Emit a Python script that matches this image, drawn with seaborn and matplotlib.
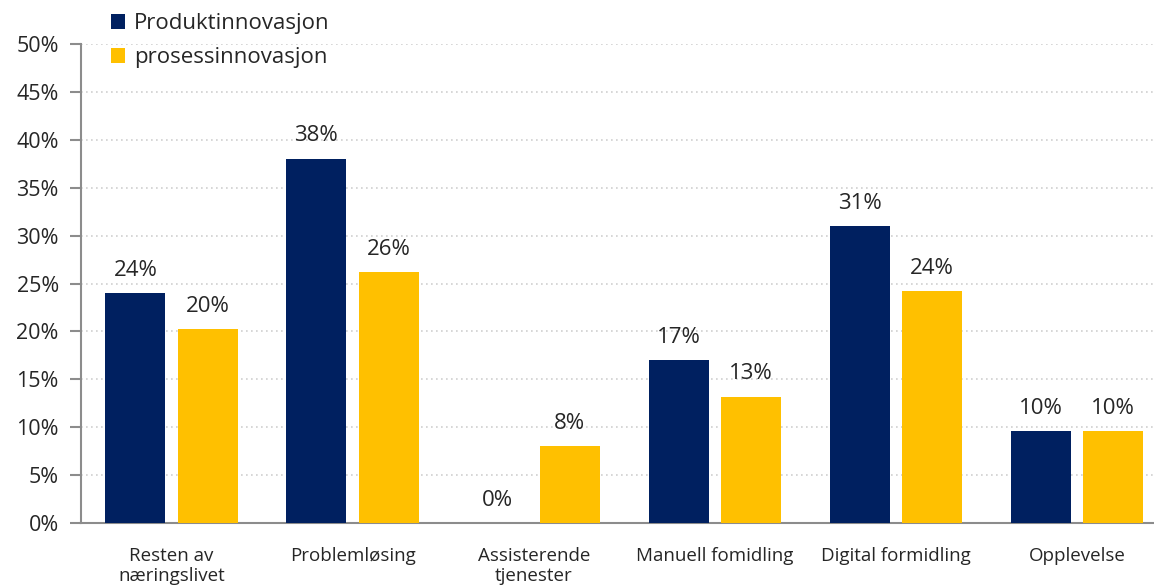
import matplotlib
matplotlib.use("Agg")
import matplotlib.pyplot as plt
import seaborn as sns
import pandas as pd
from matplotlib.ticker import FuncFormatter, MultipleLocator
from matplotlib.patches import Patch

categories = ["Resten av\nnæringslivet", "Problemløsing", "Assisterende\ntjenester",
              "Manuell fomidling", "Digital formidling", "Opplevelse"]
series_names = ["Produktinnovasjon", "prosessinnovasjon"]
produkt = [24.0, 38.0, 0.0, 17.0, 31.0, 9.6]
prosess = [20.2, 26.2, 8.0, 13.2, 24.2, 9.6]
colors = ["#002060", "#FFC000"]

df = pd.DataFrame({
    "kategori": categories * 2,
    "serie": [series_names[0]] * len(categories) + [series_names[1]] * len(categories),
    "andel": produkt + prosess,
})

sns.set_theme(style="white")
plt.rcParams["font.family"] = ["Open Sans", "DejaVu Sans"]
text_color = "#262626"

fig = plt.figure(figsize=(11.54, 5.86), dpi=100)
ax = fig.add_axes([81 / 1154, 63 / 586, 1 - 81 / 1154, 479 / 586])

sns.barplot(data=df, x="kategori", y="andel", hue="serie", palette=colors,
            width=0.8, gap=0.17, saturation=1, linewidth=0, ax=ax,
            legend=False, zorder=3)

for container in ax.containers:
    ax.bar_label(container, labels=[f"{v:.0f}%" for v in container.datavalues],
                 padding=9, fontsize=16, color=text_color)

ax.set_ylim(0, 50)
ax.set_xlim(-0.5, 5.5 - 13.5 / 181)
ax.yaxis.set_major_locator(MultipleLocator(5))
ax.yaxis.set_major_formatter(FuncFormatter(lambda v, _: f"{v:.0f}%"))
ax.grid(axis="y", linestyle=(0, (1, 2)), color="#cfcfcf", linewidth=1.2, zorder=0)
ax.set_axisbelow(True)

for side in ["top", "right"]:
    ax.spines[side].set_visible(False)
for side in ["left", "bottom"]:
    ax.spines[side].set_color("#8c8c8c")
    ax.spines[side].set_linewidth(1.5)

ax.tick_params(axis="y", which="major", left=True, length=8, width=1.5, color="#8c8c8c",
               labelsize=15.5, labelcolor=text_color, pad=8)
ax.tick_params(axis="x", bottom=False, labelsize=13.5, labelcolor=text_color, pad=11)
for lbl in ax.get_xticklabels():
    lbl.set_linespacing(1.2)
ax.set_xlabel("")
ax.set_ylabel("")

handles = [Patch(facecolor=c, edgecolor="none") for c in colors]
fig.legend(handles, series_names, loc="upper left", bbox_to_anchor=(91 / 1154, 1 + 7 / 586),
           frameon=False, fontsize=16, handlelength=0.65, handleheight=0.65,
           handletextpad=0.4, labelspacing=0.6, labelcolor=text_color)

fig.savefig("out.png", dpi=100)
